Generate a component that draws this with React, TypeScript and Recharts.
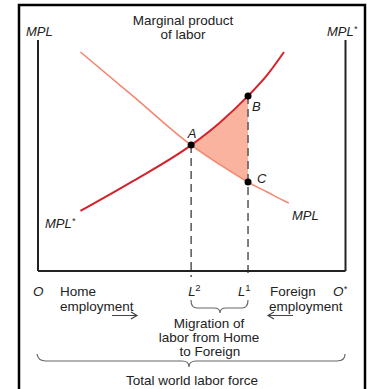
import React from 'react';
import { ComposedChart, Line, Area, XAxis, YAxis, ReferenceLine, ReferenceDot } from 'recharts';

// Labor (x, share of world labor force measured from O) and marginal products
const laborX = [13.8, 31, 49.8, 59, 68.3, 74.5, 80, 81.6];
const mplHome = [94.8, 75.6, 54.5, 46.2, 38.5, 34.2, 30.4, 29.4];
const mplForeign = [26.0, 39.0, 54.5, 64.1, 75.8, 84.8, 94.8, null];

// Key points
const pointNames = ['A', 'B', 'C'];
const pointX = [49.8, 68.3, 68.3];
const pointY = [54.5, 75.8, 38.5];

// Employment levels
const levelNames = ['2', '1'];
const levelX = [49.8, 68.3];
const levelY = [54.5, 75.8];

const FONT = 'Liberation Sans, Arial, sans-serif';
const TXT = '#222';

const data = laborX.map((x, i) => {
  const row: any = { x, mpl: mplHome[i], mplStar: mplForeign[i] };
  if (x >= levelX[0] - 0.01 && x <= levelX[1] + 0.01 && mplForeign[i] != null) {
    row.band = [mplHome[i], mplForeign[i]];
  }
  return row;
});

const labelOffsets: Record<string, [number, number, string]> = {
  A: [1, -7, 'middle'],
  B: [4, 15, 'start'],
  C: [9, 1, 'start'],
};

const pointLabel = (name: string) => (props: any) => {
  const vb = props.viewBox || {};
  const cx = (vb.x ?? 0) + (vb.width ?? 0) / 2;
  const cy = (vb.y ?? 0) + (vb.height ?? 0) / 2;
  const [dx, dy, anchor] = labelOffsets[name];
  return (
    <text x={cx + dx} y={cy + dy} textAnchor={anchor as any} fontFamily={FONT} fontSize={13} fontStyle="italic" fill={TXT}>
      {name}
    </text>
  );
};

const levelLabel = (sup: string, dx: number) => (props: any) => {
  const vb = props.viewBox || {};
  const cx = (vb.x ?? 0) + (vb.width ?? 0) / 2;
  const cy = (vb.y ?? 0) + (vb.height ?? 0) / 2;
  return (
    <text x={cx + dx} y={cy + 25} fontFamily={FONT} fontSize={13} fill={TXT}>
      <tspan fontStyle="italic">L</tspan>
      <tspan fontSize={9.5} dy={-5}>{sup}</tspan>
    </text>
  );
};

export default function App() {
  return (
    <div style={{ position: 'absolute', left: 0, top: 0, width: 367, height: 389, background: '#fff' }}>
      <ComposedChart
        width={367}
        height={389}
        data={data}
        margin={{ top: 40, right: 21.5, bottom: 118, left: 38 }}
      >
        <XAxis type="number" dataKey="x" domain={[0, 100]} hide />
        <YAxis type="number" domain={[0, 100]} hide />
        <Area
          dataKey="band"
          type="monotone"
          stroke="none"
          fill="#f9b39e"
          fillOpacity={1}
          isAnimationActive={false}
        />
        <Line dataKey="mpl" type="monotone" stroke="#f2866f" strokeWidth={1.5} dot={false} isAnimationActive={false} />
        <Line dataKey="mplStar" type="monotone" stroke="#d3232b" strokeWidth={2} dot={false} isAnimationActive={false} />
        {levelX.map((lx, i) => (
          <ReferenceLine
            key={'lv' + i}
            segment={[{ x: lx, y: levelY[i] }, { x: lx, y: -2.6 }]}
            stroke="#555"
            strokeWidth={1.5}
            strokeDasharray="8 5"
            ifOverflow="visible"
          />
        ))}
        <ReferenceLine x={0} stroke="#222" strokeWidth={2} />
        <ReferenceLine x={100} stroke="#222" strokeWidth={2} />
        <ReferenceLine y={0} stroke="#222" strokeWidth={2} />
        {pointNames.map((n, i) => (
          <ReferenceDot key={n} x={pointX[i]} y={pointY[i]} r={3.5} fill="#000" stroke="none" label={pointLabel(n)} />
        ))}
        {levelNames.map((n, i) => (
          <ReferenceDot
            key={'L' + n}
            x={levelX[i]}
            y={0}
            r={0}
            fill="none"
            stroke="none"
            ifOverflow="visible"
            label={levelLabel(n, i === 0 ? -3 : -10)}
          />
        ))}
      </ComposedChart>
      <svg
        width={367}
        height={389}
        style={{ position: 'absolute', left: 0, top: 0, pointerEvents: 'none' }}
      >
        <path d="M19,389 L19,5 L365,5 L365,389" fill="none" stroke="#000" strokeWidth={2.5} />
        <g fontFamily={FONT} fontSize={13.5} fill={TXT}>
          <text x={183} y={25} textAnchor="middle">Marginal product</text>
          <text x={183} y={38.5} textAnchor="middle">of labor</text>
          <text x={26} y={36} fontStyle="italic" fontSize={13}>MPL</text>
          <text x={327} y={35.5} fontStyle="italic" fontSize={13}>
            MPL<tspan fontSize={9} dy={-4}>*</tspan>
          </text>
          <text x={292} y={220} fontStyle="italic" fontSize={13}>MPL</text>
          <text x={45} y={228} fontStyle="italic" fontSize={13}>
            MPL<tspan fontSize={9} dy={-4}>*</tspan>
          </text>
          <text x={33} y={296} fontStyle="italic">O</text>
          <text x={333} y={296} fontStyle="italic">
            O<tspan fontSize={9} dy={-4}>*</tspan>
          </text>
          <text x={60} y={296}>Home</text>
          <text x={60} y={310.5}>employment</text>
          <text x={270} y={296}>Foreign</text>
          <text x={269} y={310.5}>employment</text>
          <text x={209} y={328} textAnchor="middle">Migration of</text>
          <text x={209} y={342} textAnchor="middle">labor from Home</text>
          <text x={210} y={355.5} textAnchor="middle">to Foreign</text>
          <text x={192} y={384.5} textAnchor="middle">Total world labor force</text>
        </g>
        <g fill="none" stroke="#444" strokeWidth={1.2}>
          <path d="M112,315.5 L137,315.5 M131,312 L137,315.5 L131,319" />
          <path d="M293,315.5 L268,315.5 M274,312 L268,315.5 L274,319" />
        </g>
        <g fill="none" stroke="#666" strokeWidth={1.2}>
          <path d="M191,300 Q191,308 197,308 L214,308 Q220,308 220,313 Q220,308 226,308 L242,308 Q248,308 248,300" />
          <path d="M37,354 Q38,361 46,361 L182,361 Q189,361 189,367 Q189,361 196,361 L337,361 Q345,361 345,354" />
        </g>
      </svg>
    </div>
  );
}
